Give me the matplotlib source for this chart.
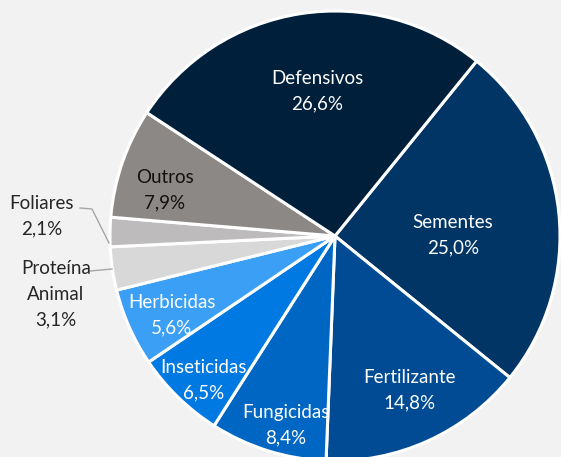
import matplotlib
matplotlib.use("Agg")
import matplotlib.pyplot as plt

# slices in drawing order (clockwise from the Defensivos/Sementes edge)
categories = ["Sementes", "Fertilizante", "Fungicidas", "Inseticidas", "Herbicidas",
              "Proteína\nAnimal", "Foliares", "Outros", "Defensivos"]
shares = [25.0, 14.8, 8.4, 6.5, 5.6, 3.1, 2.1, 7.9, 26.6]
colors = ["#003566", "#004b93", "#0066c4", "#0079e2", "#3a9ff5",
          "#d9d8d8", "#bdbbbb", "#8c8886", "#001f3b"]
text_colors = ["white", "white", "white", "white", "white",
               "#262626", "#262626", "#111111", "white"]

# label centres in pixel coordinates (y measured from top)
label_xy = [(453, 235), (410, 390), (286, 425), (204, 380), (172, 315),
            (56, 294), (42, 216), (165, 190), (317, 91)]
outside = {"Proteína\nAnimal": [(90, 271), (112, 269)],
           "Foliares": [(80, 208), (92, 209), (109, 243)]}

W, H = 561, 457
center = (335, H - 236)
radius = 225

fig = plt.figure(figsize=(W / 100, H / 100), dpi=100)
fig.patch.set_facecolor("#f2f2f2")
ax = fig.add_axes([0, 0, 1, 1])

ax.pie(shares, colors=colors, startangle=51, counterclock=False,
       center=center, radius=radius, frame=True,
       wedgeprops=dict(edgecolor="white", linewidth=2.2))
ax.set_xlim(0, W)
ax.set_ylim(0, H)
ax.set_aspect("equal")
ax.axis("off")

for name, value, (x, y), tc in zip(categories, shares, label_xy, text_colors):
    label = f"{name}\n{value:.1f}%".replace(".", ",")
    ax.text(x, H - y, label, ha="center", va="center", color=tc,
            fontsize=13.5, family="Lato", linespacing=1.6)
    if name in outside:
        pts = outside[name]
        ax.plot([p[0] for p in pts], [H - p[1] for p in pts],
                color="#a6a6a6", linewidth=1)

fig.savefig("out.png", dpi=100, facecolor=fig.get_facecolor())
